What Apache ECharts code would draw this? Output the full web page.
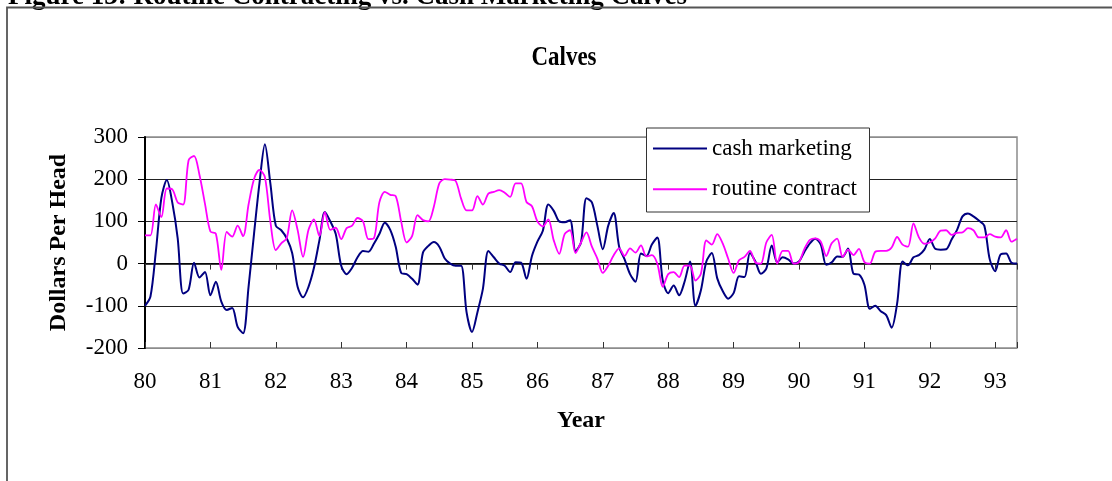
<!DOCTYPE html>
<html>
<head>
<meta charset="utf-8">
<title>Calves</title>
<script src="https://cdn.jsdelivr.net/npm/echarts@6/dist/echarts.min.js"></script>
<style>
  html, body { margin: 0; padding: 0; background: #fff; }
  #chart { width: 1112px; height: 481px; }
</style>
</head>
<body>
<div id="chart"></div>
<script>
// monthly values, Jan 1980 onward (one value per month)
const cashMarketing = [
  -100, -78, 30, 155, 198, 145, 60, -71, -62, 2,
  -33, -20, -75, -43, -90, -110, -105, -150, -165, -55,
  70, 190, 283, 190, 90, 79, 60, 25, -55, -80,
  -55, -10, 55, 122, 100, 70, -5, -25, -10, 15,
  30, 28, 47, 70, 97, 80, 40, -22, -25, -36,
  -50, 26, 42, 51, 40, 12, 0, -5, -5, -115,
  -162, -115, -60, 30, 15, 0, -5, -20, 3, 2,
  -36, 18, 52, 78, 140, 125, 100, 98, 103, 30,
  50, 155, 145, 90, 34, 90, 120, 40, 10, -25,
  -43, 24, 18, 45, 62, -40, -70, -52, -75, -43,
  5, -100, -63, 5, 25, -35, -65, -83, -70, -30,
  -32, 25, 5, -24, -12, 43, 3, 15, 10, 0,
  5, 28, 48, 59, 45, -3, 3, 17, 16, 36,
  -24, -26, -50, -107, -100, -113, -122, -152, -95, 5,
  -4, 15, 20, 33, 58, 35, 33, 34, 57, 80,
  112, 119, 112, 102, 90, 10, -18, 22, 24, 2, 0
];

const routineContract = [
  67, 67, 140, 110, 178, 176, 145, 140, 245, 255,
  210, 142, 76, 71, -15, 75, 64, 90, 65, 140,
  200, 222, 205, 100, 32, 48, 60, 126, 80, 16,
  80, 105, 65, 122, 80, 85, 58, 84, 90, 108,
  100, 58, 60, 145, 170, 163, 160, 100, 50, 65,
  115, 103, 100, 135, 190, 200, 199, 196, 154, 126,
  126, 160, 140, 166, 170, 174, 168, 158, 190, 190,
  146, 136, 100, 88, 105, 55, 23, 70, 79, 25,
  50, 74, 40, 12, -22, -5, 20, 36, 18, 36,
  26, 43, 17, 20, 0, -55, -25, -20, -32, -5,
  -5, -40, -24, 55, 45, 70, 48, 12, -22, 8,
  16, 30, 3, 0, 50, 68, 0, 30, 30, 0,
  4, 35, 56, 60, 52, 18, 48, 59, 16, 33,
  20, 35, 4, 0, 28, 30, 30, 38, 63, 45,
  40, 95, 62, 47, 50, 60, 78, 79, 68, 73,
  74, 84, 79, 62, 62, 70, 64, 62, 79, 52, 59
];

const seriesNames = ['cash marketing', 'routine contract'];
const firstYear = 80;
const yTicks = { min: -200, max: 300, step: 100 };

const font = "'Liberation Serif', 'Times New Roman', serif";

const myChart = echarts.init(document.getElementById('chart'), null, { renderer: 'canvas' });

const lastMonth = cashMarketing.length - 1;

const option = {
  animation: false,
  backgroundColor: '#fff',
  grid: {
    left: 145,
    right: 95,
    top: 137,
    bottom: 133,
    show: true,
    borderColor: '#8c8c8c',
    borderWidth: 1.5
  },
  graphic: [
    {
      type: 'rect',
      z: 1,
      shape: { x: 7, y: 7.5, width: 1200, height: 600 },
      style: { fill: 'none', stroke: '#555', lineWidth: 1.8 }
    },
    {
      type: 'text',
      x: 8,
      y: -3,
      style: {
        text: 'Figure 13: Routine Contracting vs. Cash Marketing Calves',
        font: 'bold 27px ' + font,
        fill: '#000',
        align: 'left',
        verticalAlign: 'middle'
      }
    },
    {
      type: 'text',
      x: 564,
      y: 58,
      scaleX: 0.82,
      style: {
        text: 'Calves',
        font: 'bold 28px ' + font,
        fill: '#000',
        align: 'center',
        verticalAlign: 'middle'
      }
    },
    {
      type: 'rect',
      z: 10,
      shape: { x: 646.5, y: 128, width: 223, height: 84 },
      style: { fill: '#fff', stroke: '#333', lineWidth: 1 }
    }
  ],
  legend: {
    z: 20,
    data: seriesNames,
    orient: 'vertical',
    left: 653,
    top: 137,
    padding: 0,
    itemGap: 17.7,
    icon: 'rect',
    itemWidth: 54,
    itemHeight: 2,
    textStyle: {
      fontFamily: font,
      fontSize: 23,
      lineHeight: 23,
      color: '#000'
    }
  },
  xAxis: [
    {
      type: 'value',
      position: 'bottom',
      min: 0,
      max: lastMonth,
      interval: 12,
      axisLine: { show: true, onZero: true, lineStyle: { color: '#000', width: 1.5 } },
      axisTick: { show: true, length: 6, lineStyle: { color: '#333', width: 1 } },
      axisLabel: { show: false },
      splitLine: { show: false }
    },
    {
      type: 'value',
      position: 'bottom',
      min: 0,
      max: lastMonth,
      interval: 12,
      axisLine: { show: false, onZero: true },
      axisTick: { show: true, inside: true, length: 6, lineStyle: { color: '#333', width: 1 } },
      axisLabel: { show: false },
      splitLine: { show: false }
    },
    {
      type: 'value',
      position: 'bottom',
      min: 0,
      max: lastMonth,
      interval: 12,
      axisLine: { show: false, onZero: false },
      axisTick: { show: false },
      axisLabel: {
        margin: 22,
        fontFamily: font,
        fontSize: 23,
        color: '#000',
        formatter: function (v) { return String(firstYear + v / 12); }
      },
      splitLine: { show: false },
      name: 'Year',
      nameLocation: 'middle',
      nameGap: 61,
      nameTextStyle: { fontFamily: font, fontSize: 24, fontWeight: 'bold', color: '#000' }
    }
  ],
  yAxis: {
    type: 'value',
    min: yTicks.min,
    max: yTicks.max,
    interval: yTicks.step,
    axisLine: { show: true, onZero: false, lineStyle: { color: '#000', width: 2 } },
    axisTick: { show: true, length: 7, lineStyle: { color: '#000', width: 1 } },
    axisLabel: { margin: 17, fontFamily: font, fontSize: 23, color: '#000' },
    splitLine: {
      show: true,
      lineStyle: { color: ['#8c8c8c', '#222', '#222', '#222', '#222', '#8c8c8c'], width: 1 }
    },
    name: 'Dollars Per Head',
    nameLocation: 'middle',
    nameGap: 74,
    nameTextStyle: { fontFamily: font, fontSize: 24, fontWeight: 'bold', color: '#000' }
  },
  series: [
    {
      name: seriesNames[0],
      type: 'line',
      xAxisIndex: 0,
      symbol: 'none',
      smooth: 0.3,
      lineStyle: { color: '#000080', width: 2 },
      itemStyle: { color: '#000080' },
      data: cashMarketing.map(function (v, i) { return [i, v]; })
    },
    {
      name: seriesNames[1],
      type: 'line',
      xAxisIndex: 0,
      symbol: 'none',
      smooth: 0.3,
      lineStyle: { color: '#ff00ff', width: 1.8 },
      itemStyle: { color: '#ff00ff' },
      data: routineContract.map(function (v, i) { return [i, v]; })
    }
  ]
};

myChart.setOption(option);

window.addEventListener('resize', function () {
  myChart.resize();
});
</script>
</body>
</html>
